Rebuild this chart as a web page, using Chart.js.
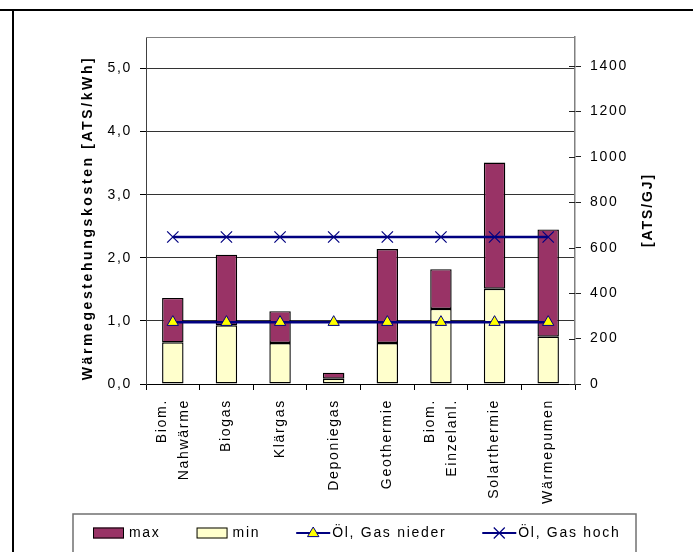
<!DOCTYPE html>
<html>
<head>
<meta charset="utf-8">
<script src="https://cdn.jsdelivr.net/npm/chart.js@4.4.1/dist/chart.umd.min.js"></script>
<style>
  html, body { margin: 0; padding: 0; background: #fff; }
  #wrap { width: 693px; height: 552px; position: relative; }
</style>
</head>
<body>
<div id="wrap"><canvas id="c" width="693" height="552"></canvas></div>
<script>
// Heat production cost per technology (ATS/kWh)
const categories = [['Biom.', 'Nahwärme'], 'Biogas', 'Klärgas', 'Deponiegas', 'Geothermie', ['Biom.', 'Einzelanl.'], 'Solarthermie', 'Wärmepumen'];
const minCost = [0.66, 0.93, 0.65, 0.085, 0.65, 1.19, 1.51, 0.75];
const maxCost = [1.365, 2.05, 1.155, 0.18, 2.14, 1.82, 3.51, 2.45];
const oilGasLow = [0.98, 0.98, 0.98, 0.98, 0.98, 0.98, 0.98, 0.98];
const oilGasHigh = [2.33, 2.33, 2.33, 2.33, 2.33, 2.33, 2.33, 2.33];

// Axis ticks
const kwhTicks = [0, 1, 2, 3, 4, 5];
const gjTicks = [0, 200, 400, 600, 800, 1000, 1200, 1400];
const kwhMax = 5.5;
const KWH_PER_GJ = 1e9 / 3.6e6;

const FONT = "'Liberation Sans', Arial, Helvetica, sans-serif";
const TEXT_SPACING = '1.7px';

// Upper (max) segment is the range above the min segment
const maxSegment = maxCost.map((v, i) => +(v - minCost[i]).toFixed(3));

const spacingPlugin = {
  id: 'spacing',
  beforeUpdate(chart) { chart.ctx.letterSpacing = TEXT_SPACING; },
  beforeLayout(chart) { chart.ctx.letterSpacing = TEXT_SPACING; },
  beforeDraw(chart) {
    const ctx = chart.ctx;
    ctx.letterSpacing = TEXT_SPACING;
    ctx.save();
    ctx.fillStyle = '#fff';
    ctx.fillRect(0, 0, chart.width, chart.height);
    // page frame lines
    ctx.strokeStyle = '#000';
    ctx.lineWidth = 2;
    ctx.beginPath();
    ctx.moveTo(0, 10); ctx.lineTo(chart.width, 10);
    ctx.moveTo(13, 10); ctx.lineTo(13, chart.height);
    ctx.stroke();
    ctx.restore();

    // center multi-line category labels on their tick
    const xs = chart.scales.x;
    const items = xs.getLabelItems(chart.chartArea);
    items.forEach(it => {
      if (Array.isArray(it.label) && it.label.length > 1 && !it._centered) {
        it.textOffset -= (it.label.length - 1) * it.font.lineHeight / 2;
        it._centered = true;
      }
    });
  }
};

const framePlugin = {
  id: 'plotFrame',
  beforeDatasetsDraw(chart) {
    const ctx = chart.ctx;
    const a = chart.chartArea;
    ctx.save();
    ctx.strokeStyle = '#808080';
    ctx.lineWidth = 1;
    ctx.beginPath();
    ctx.moveTo(a.left, a.top + 0.5);
    ctx.lineTo(a.right, a.top + 0.5);
    ctx.stroke();
    // inner tick marks of the right axis
    const y2 = chart.scales.y2;
    ctx.strokeStyle = '#202020';
    ctx.beginPath();
    y2.ticks.forEach(t => {
      const py = Math.round(y2.getPixelForValue(t.value)) + 0.5;
      ctx.moveTo(a.right - 6, py);
      ctx.lineTo(a.right, py);
    });
    ctx.stroke();
    ctx.restore();
  }
};

function drawSpacedRotated(ctx, text, x, y, font, spacing) {
  ctx.save();
  ctx.font = font;
  ctx.letterSpacing = spacing;
  ctx.fillStyle = '#000';
  ctx.translate(x, y);
  ctx.rotate(-Math.PI / 2);
  ctx.textAlign = 'center';
  ctx.textBaseline = 'alphabetic';
  ctx.fillText(text, 0, 0);
  ctx.restore();
}

const titlePlugin = {
  id: 'axisTitles',
  afterDraw(chart) {
    const ctx = chart.ctx;
    drawSpacedRotated(ctx, 'Wärmegestehungskosten [ATS/kWh]', 92, 218, 'bold 14px ' + FONT, '2.6px');
    drawSpacedRotated(ctx, '[ATS/GJ]', 652, 210, 'bold 14px ' + FONT, '1.9px');
  }
};

const legendPlugin = {
  id: 'boxLegend',
  afterDraw(chart) {
    const ctx = chart.ctx;
    ctx.save();
    ctx.strokeStyle = '#707070';
    ctx.lineWidth = 1.5;
    ctx.strokeRect(73, 514, 563, 60);
    ctx.font = '14px ' + FONT;
    ctx.letterSpacing = TEXT_SPACING;
    ctx.textBaseline = 'middle';
    ctx.fillStyle = '#000';
    const cy = 533;
    let x = 93;
    chart.data.datasets.forEach(ds => {
      if (ds.type === 'bar') {
        ctx.fillStyle = ds.backgroundColor;
        ctx.fillRect(x, cy - 5.5, 31, 11);
        ctx.strokeStyle = '#000';
        ctx.lineWidth = 1;
        ctx.strokeRect(x + 0.5, cy - 5, 30, 10);
        x += 31 + 5;
      } else {
        ctx.strokeStyle = ds.borderColor;
        ctx.lineWidth = 2;
        ctx.beginPath();
        ctx.moveTo(x, cy); ctx.lineTo(x + 34, cy);
        ctx.stroke();
        const mx = x + 17;
        if (ds.pointStyle === 'triangle') {
          const r = 6;
          ctx.beginPath();
          ctx.moveTo(mx, cy - r);
          ctx.lineTo(mx + r * 0.95, cy + r * 0.6);
          ctx.lineTo(mx - r * 0.95, cy + r * 0.6);
          ctx.closePath();
          ctx.fillStyle = ds.pointBackgroundColor;
          ctx.fill();
          ctx.lineWidth = 1;
          ctx.strokeStyle = ds.pointBorderColor;
          ctx.stroke();
        } else {
          const d = 5.5;
          ctx.lineWidth = 1.2;
          ctx.strokeStyle = ds.pointBorderColor;
          ctx.beginPath();
          ctx.moveTo(mx - d, cy - d); ctx.lineTo(mx + d, cy + d);
          ctx.moveTo(mx - d, cy + d); ctx.lineTo(mx + d, cy - d);
          ctx.stroke();
        }
        x += 34 + 2;
      }
      ctx.fillStyle = '#000';
      ctx.textAlign = 'left';
      ctx.fillText(ds.label, x, cy + 0.5);
      x += ctx.measureText(ds.label).width + 36;
    });
    ctx.restore();
  }
};

Chart.defaults.font.family = FONT;
Chart.defaults.color = '#000';

new Chart(document.getElementById('c'), {
  data: {
    labels: categories,
    datasets: [
      {
        type: 'bar', label: 'max', data: maxSegment, stack: 'cost', order: 2,
        backgroundColor: '#993366', borderColor: '#000', borderWidth: 1.4, borderSkipped: false,
        inflateAmount: 0, barPercentage: 0.4, categoryPercentage: 1
      },
      {
        type: 'bar', label: 'min', data: minCost, stack: 'cost', order: 1,
        backgroundColor: '#FFFFCC', borderColor: '#000', borderWidth: 1.4, borderSkipped: false,
        inflateAmount: 0, barPercentage: 0.4, categoryPercentage: 1
      },
      {
        type: 'line', label: 'Öl, Gas nieder', data: oilGasLow, stack: 'low', order: 0,
        borderColor: '#000080', borderWidth: 2.5, fill: false, tension: 0,
        pointStyle: 'triangle', pointRadius: 6.5, pointBackgroundColor: '#FFFF00',
        pointBorderColor: '#000080', pointBorderWidth: 1
      },
      {
        type: 'line', label: 'Öl, Gas hoch', data: oilGasHigh, stack: 'high', order: 0,
        borderColor: '#000080', borderWidth: 2.5, fill: false, tension: 0,
        pointStyle: 'crossRot', pointRadius: 8, pointBackgroundColor: '#000080',
        pointBorderColor: '#000080', pointBorderWidth: 1.2
      }
    ]
  },
  options: {
    responsive: false,
    devicePixelRatio: 1,
    animation: false,
    layout: { padding: { top: 37, left: 0, right: 0, bottom: 0 } },
    plugins: { legend: { display: false }, tooltip: { enabled: false }, title: { display: false } },
    scales: {
      x: {
        stacked: true,
        offset: true,
        grid: { display: true, drawOnChartArea: false, offset: true, tickLength: 6, color: '#000' },
        border: { color: '#000', width: 1 },
        ticks: {
          autoSkip: false, minRotation: 90, maxRotation: 90, padding: 9,
          font: { size: 14, lineHeight: 1.55 }
        },
        afterFit(s) { s.height = 168; }
      },
      y: {
        position: 'left',
        stacked: true,
        min: 0, max: kwhMax,
        afterBuildTicks(s) { s.ticks = kwhTicks.map(v => ({ value: v })); },
        grid: {
          color: ctx => ctx.tick && ctx.tick.value === 0 ? '#000' : '#333',
          tickColor: '#000', tickLength: 6, lineWidth: 1
        },
        border: { color: '#404040', width: 1 },
        ticks: {
          padding: 8, font: { size: 14 },
          callback: v => v.toFixed(1).replace('.', ',')
        },
        afterFit(s) { s.width = 146; }
      },
      y2: {
        position: 'right',
        min: 0, max: kwhMax * KWH_PER_GJ,
        afterBuildTicks(s) { s.ticks = gjTicks.map(v => ({ value: v })); },
        grid: { drawOnChartArea: false, tickLength: 6, color: '#202020' },
        border: { color: '#808080', width: 1.5 },
        ticks: { padding: 9, font: { size: 14 }, callback: v => String(v) },
        afterFit(s) { s.width = 118; }
      }
    }
  },
  plugins: [spacingPlugin, framePlugin, titlePlugin, legendPlugin]
});
</script>
</body>
</html>
